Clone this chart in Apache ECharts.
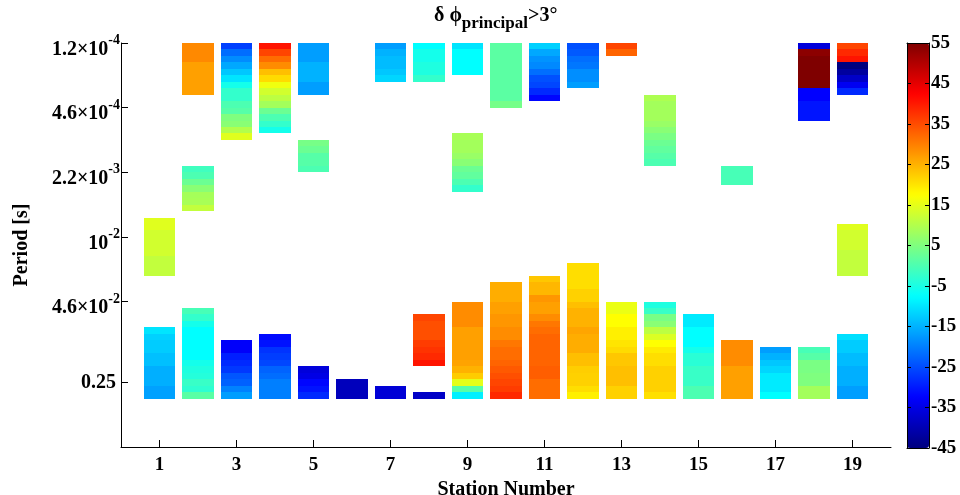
<!DOCTYPE html>
<html><head><meta charset="utf-8">
<script src="https://cdn.jsdelivr.net/npm/echarts@6/dist/echarts.min.js"></script>
<style>html,body{margin:0;padding:0;background:#fff}#c{width:960px;height:495px}</style>
</head><body><div id="c"></div>
<script>
// ---------- data ----------
// Each station: list of column segments [firstRow, [values from top row downward]]
// Row 0 is the shortest period (top of the plot); one value = one period bin.
const st1  = [[27,[14.5,14.5,13,13,13,13,11.5,11.5,11.5]],[44,[-10,-12,-12.5,-12.5,-13.7,-13.7,-15.3,-15.3,-15.3,-16.7,-16.7]]];
const st2  = [[0,[29,29,29,26.8,26.8,26.8,26.8,26.8]],[19,[-1.25,0,3,6,8.7,9,11.5]],[41,[-0.5,-2.5,-5.5,-7.5,-7.5,-7.5,-7.5,-7.5,-5.5,-4.5,-4,-2,-3,1.25]]];
const st3  = [[0,[-26.25,-21.75,-18.75,-16,-13,-10,-5.5,-2.5,-2.5,0,1,5,6,10,14.5]],[46,[-33,-33,-29.5,-28.5,-27,-24,-23,-19.7,-17]]];
const st4  = [[0,[40.5,35.7,31.75,28.75,23.75,21,16,13,11,8.5,3,0,-2.5,-5.5]],[45,[-31.5,-30.7,-27.5,-26.5,-25.6,-22.8,-21.8,-20,-20,-20]]];
const st5  = [[0,[-17,-17,-17,-15,-15,-15,-17,-17]],[15,[4.25,3,1,1,0]],[50,[-36,-35,-32,-30.7,-28.5]]];
const st6  = [[52,[-39,-39,-39]]];
const st7  = [[0,[-17,-15,-14,-14,-13,-11.5]],[53,[-36.5,-36.5]]];
const st8  = [[0,[-7.5,-5.5,-5.5,-4.5,-4.5,-2.5]],[42,[35.7,34.7,34.7,34.7,36.6,37.5,38.5,40.5]],[54,[-38]]];
const st9  = [[0,[-10,-7.5,-7.5,-7.5,-7.5]],[14,[9,8.5,8.5,7.5,6,3,2,0,-2.5]],[40,[28.75,28.75,28.75,28.75,26.8,26.8,26.8,26.8,26.8,26.5,25,22.5,15,1,-9]]];
const st10 = [[0,[1.5,1.5,1.5,1.5,1.5,1.5,1.5,1.5,1.5,4]],[37,[25.5,25.5,25.5,26.8,26.8,27.8,27.8,28.75,28.75,30.75,31.75,31.75,32.7,33.7,34.7,35.7,36.6,38.5]]];
const st11 = [[0,[-12,-16,-18,-19,-21.7,-24.6,-25.6,-28.5,-32]],[36,[23,24.5,24.5,27.8,26.8,26.8,28.75,30.75,31.75,32.7,32.7,32.7,32.7,32.7,33.2,33.2,31.75,31.75,31.75]]];
const st12 = [[0,[-24.6,-23.7,-21.7,-20.8,-18.5,-18.5,-17]],[34,[20.75,20.75,20.75,20.75,22,22,23.75,25,25,25,26.3,25.5,25.5,25.5,23.75,23.75,22.3,22,22,20.75,19]]];
const st13 = [[0,[35.7,32.7]],[40,[15.5,15.5,17.5,17.5,19,19,20,21,23,23,23.75,23.75,23.75,22,22]]];
const st14 = [[8,[9.5,8.5,8.5,8.5,7.5,6,4.5,3,2,1,0]],[40,[-4.5,-2,4.3,6,11,14,17.5,19.5,20.75,20.75,22,22,22,22,20.5]]];
const st15 = [[42,[-9.5,-9.5,-7.5,-7.5,-7.5,-5.5,-3.5,-3.5,-2,-2,-2,0,0]]];
const st16 = [[19,[-0.5,-0.5,-0.5]],[46,[28.75,28.75,28.75,28.75,26.8,26.8,26.8,26.8,26.8]]];
const st17 = [[47,[-17,-15,-13,-11.5,-9.5,-9.5,-9.5,-7.5]]];
const st18 = [[0,[-36,53.75,55,55,55,55,55,-32.5,-32.5,-30.5,-30.5,-30.5]],[47,[-0.5,1,4.5,4.5,5,5,8.5,8.5]]];
const st19 = [[0,[35.7,38.5,40.5,-45,-42,-38,-33.8,-28.5]],[28,[14.5,13,13,13,11.5,11.5,11.5,11.5]],[45,[-10.5,-12.5,-12.5,-14,-14,-15.3,-15.3,-15.3,-17,-17]]];
const stationColumns = [st1,st2,st3,st4,st5,st6,st7,st8,st9,st10,st11,st12,st13,st14,st15,st16,st17,st18,st19];

const stationTicks = [1,3,5,7,9,11,13,15,17,19];
const periodTickRows = [0,10,20,30,40,52.5];
const periodTickBase = ['1.2×10','4.6×10','2.2×10','10','4.6×10','0.25'];
const periodTickExp  = ['-4','-4','-3','-2','-2',''];
const colorTicks = [-45,-35,-25,-15,-5,5,15,25,35,45,55];
const colorMin = -45, colorMax = 55;
const jet = ['#00007f','#0000ff','#007fff','#00ffff','#7fff7f','#ffff00','#ff7f00','#ff0000','#7f0000'];

// ---------- build ----------
const cells = [];
stationColumns.forEach((segs, i) => {
  segs.forEach(([r0, vals]) => {
    vals.forEach((v, j) => cells.push([i + 1, r0 + j, v]));
  });
});

const F = '"Liberation Serif","Times New Roman",serif';
const chart = echarts.init(document.getElementById('c'), null, {renderer: 'canvas'});
chart.setOption({
  animation: false,
  backgroundColor: '#fff',
  title: {
    text: '{a|δ ϕ}{s|principal}{a|>3°}',
    left: 434, top: 6, padding: 0,
    textStyle: {
      rich: {
        a: {fontFamily: F, fontWeight: 'bold', fontSize: 20, color: '#000', lineHeight: 22, verticalAlign: 'top'},
        s: {fontFamily: F, fontWeight: 'bold', fontSize: 17, color: '#000', lineHeight: 18, padding: [14,0,0,0]}
      }
    }
  },
  grid: [
    {left: 121, top: 43, width: 770, height: 404, outerBoundsMode: 'none', containLabel: false},
    {left: 907, top: 43, width: 22, height: 405, outerBoundsMode: 'none', containLabel: false}
  ],
  xAxis: [
    {
      gridIndex: 0, type: 'value', min: 0, max: 20, position: 'bottom',
      name: 'Station Number', nameLocation: 'middle', nameGap: 27,
      nameTextStyle: {fontFamily: F, fontWeight: 'bold', fontSize: 20, color: '#000'},
      axisLine: {show: true, onZero: false, lineStyle: {color: '#000', width: 1}},
      axisTick: {show: true, inside: true, length: 7, customValues: stationTicks, lineStyle: {color: '#000'}},
      axisLabel: {customValues: stationTicks, fontFamily: F, fontWeight: 'bold', fontSize: 19, color: '#000', margin: 9},
      splitLine: {show: false}
    },
    {gridIndex: 1, type: 'value', min: 0, max: 1, position: 'bottom', z: 10,
      axisLine: {show: true, onZero: false, lineStyle: {color: '#000'}}, axisTick: {show: false}, axisLabel: {show: false}, splitLine: {show: false}},
    {gridIndex: 1, type: 'value', min: 0, max: 1, position: 'top', z: 10,
      axisLine: {show: true, onZero: false, lineStyle: {color: '#000'}}, axisTick: {show: false}, axisLabel: {show: false}, splitLine: {show: false}}
  ],
  yAxis: [
    {
      gridIndex: 0, type: 'value', min: 0, max: 62.5, inverse: true, position: 'left',
      name: 'Period [s]', nameLocation: 'middle', nameGap: 89, nameRotate: 90,
      nameTextStyle: {fontFamily: F, fontWeight: 'bold', fontSize: 20, color: '#000'},
      axisLine: {show: true, onZero: false, lineStyle: {color: '#000', width: 1}},
      axisTick: {show: true, inside: true, length: 7, customValues: periodTickRows, lineStyle: {color: '#000'}},
      axisLabel: {
        customValues: periodTickRows, margin: 1, padding: [7,0,0,0],
        formatter: (v) => {
          const i = periodTickRows.indexOf(v);
          if (i < 0) return '';
          return periodTickExp[i] ? '{b|' + periodTickBase[i] + '}{e|' + periodTickExp[i] + '}' : '{c|' + periodTickBase[i] + '}';
        },
        rich: {
          b: {fontFamily: F, fontWeight: 'bold', fontSize: 20, color: '#000', lineHeight: 26, verticalAlign: 'bottom'},
          e: {fontFamily: F, fontWeight: 'bold', fontSize: 14, color: '#000', lineHeight: 14, verticalAlign: 'top'},
          c: {fontFamily: F, fontWeight: 'bold', fontSize: 20, color: '#000', lineHeight: 20, padding: [0,4,7,0]}
        }
      },
      splitLine: {show: false}
    },
    {
      gridIndex: 1, type: 'value', min: colorMin, max: colorMax, position: 'right', z: 10,
      axisLine: {show: true, onZero: false, lineStyle: {color: '#000'}},
      axisTick: {show: true, inside: true, length: 4, customValues: colorTicks, lineStyle: {color: '#000'}},
      axisLabel: {customValues: colorTicks, fontFamily: F, fontWeight: 'bold', fontSize: 19, color: '#000', margin: 2},
      splitLine: {show: false}
    },
    {
      gridIndex: 1, type: 'value', min: colorMin, max: colorMax, position: 'left', z: 10,
      axisLine: {show: true, onZero: false, lineStyle: {color: '#000'}},
      axisTick: {show: true, inside: true, length: 4, customValues: colorTicks, lineStyle: {color: '#000'}},
      axisLabel: {show: false},
      splitLine: {show: false}
    }
  ],
  visualMap: {
    type: 'continuous', min: colorMin, max: colorMax, dimension: 2, seriesIndex: 0,
    orient: 'vertical', left: 907, top: 43, itemWidth: 22, itemHeight: 405, padding: 0,
    calculable: false, realtime: false, hoverLink: false,
    inRange: {color: jet}, textStyle: {color: 'transparent'}, text: null, showLabel: false
  },
  series: [{
    type: 'custom', xAxisIndex: 0, yAxisIndex: 0,
    data: cells,
    renderItem: (params, api) => {
      const x = api.value(0), r = api.value(1);
      const p0 = api.coord([x - 0.41, r]);
      const p1 = api.coord([x + 0.41, r + 1]);
      const x0 = Math.round(p0[0]), x1 = Math.round(p1[0]);
      const y0 = Math.round(Math.min(p0[1], p1[1])), y1 = Math.round(Math.max(p0[1], p1[1]));
      return {type: 'rect', shape: {x: x0, y: y0, width: x1 - x0, height: y1 - y0},
        style: {fill: api.visual('color')}};
    }
  }]
});
</script></body></html>
